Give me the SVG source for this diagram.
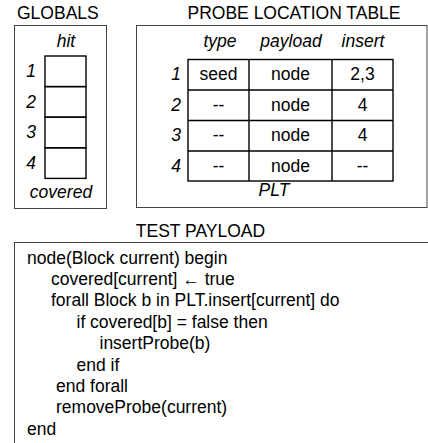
<svg xmlns="http://www.w3.org/2000/svg" width="428" height="443" viewBox="0 0 428 443">
<style>
text{font-family:"Liberation Sans",Arial,Helvetica,sans-serif;font-size:17.5px;fill:#000}
.it{font-style:italic}
.c{text-anchor:middle}
.e{text-anchor:end}
.box{fill:#fff;stroke:#444;stroke-width:1}
.cell{fill:none;stroke:#000;stroke-width:1.4}
</style>
<rect width="428" height="443" fill="#fff"/>
<g id="globals">
<text x="17" y="19">GLOBALS</text>
<rect class="box" x="14.5" y="25.5" width="92" height="183"/>
<text class="it c" x="66" y="47">hit</text>
<rect class="cell" x="45" y="56" width="41" height="30.6"/>
<rect class="cell" x="45" y="86.6" width="41" height="30.6"/>
<rect class="cell" x="45" y="117.2" width="41" height="30.6"/>
<rect class="cell" x="45" y="147.8" width="41" height="30.6"/>
<text class="it e" x="36" y="77">1</text>
<text class="it e" x="36" y="107.5">2</text>
<text class="it e" x="36" y="138">3</text>
<text class="it e" x="36" y="169">4</text>
<text class="it c" x="61" y="198">covered</text>
</g>
<g id="plt">
<text class="c" x="294" y="19">PROBE LOCATION TABLE</text>
<rect class="box" x="136.5" y="25.5" width="290.5" height="182"/>
<text class="it c" x="220" y="47">type</text>
<text class="it c" x="291" y="47">payload</text>
<text class="it c" x="363" y="47">insert</text>
<rect class="cell" x="188" y="59.5" width="205" height="121.5"/>
<line class="cell" x1="249" y1="59.5" x2="249" y2="181"/>
<line class="cell" x1="332" y1="59.5" x2="332" y2="181"/>
<line class="cell" x1="188" y1="90" x2="393" y2="90"/>
<line class="cell" x1="188" y1="120.5" x2="393" y2="120.5"/>
<line class="cell" x1="188" y1="151" x2="393" y2="151"/>
<text class="it e" x="181" y="80">1</text>
<text class="it e" x="181" y="110.5">2</text>
<text class="it e" x="181" y="141">3</text>
<text class="it e" x="181" y="171.5">4</text>
<text class="c" x="218.5" y="80">seed</text>
<text class="c" x="290.5" y="80">node</text>
<text class="c" x="362.5" y="80">2,3</text>
<text class="c" x="218.5" y="110.5">--</text>
<text class="c" x="290.5" y="110.5">node</text>
<text class="c" x="362.5" y="110.5">4</text>
<text class="c" x="218.5" y="141">--</text>
<text class="c" x="290.5" y="141">node</text>
<text class="c" x="362.5" y="141">4</text>
<text class="c" x="218.5" y="171.5">--</text>
<text class="c" x="290.5" y="171.5">node</text>
<text class="c" x="362.5" y="171.5">--</text>
<text class="it c" x="274" y="196">PLT</text>
</g>
<g id="payload">
<text class="c" x="200.5" y="237">TEST PAYLOAD</text>
<rect class="box" x="14.5" y="242.5" width="430" height="220"/>
<text x="27" y="263.5">node(Block current) begin</text>
<text x="51" y="285">covered[current] ← true</text>
<text x="51" y="306.3">forall Block b in PLT.insert[current] do</text>
<text x="76.5" y="327.7">if covered[b] = false then</text>
<text x="99.5" y="349">insertProbe(b)</text>
<text x="76.5" y="370.5">end if</text>
<text x="56" y="392">end forall</text>
<text x="56" y="413.3">removeProbe(current)</text>
<text x="27" y="434.7">end</text>
</g>
<g id="connectors"/>
</svg>
